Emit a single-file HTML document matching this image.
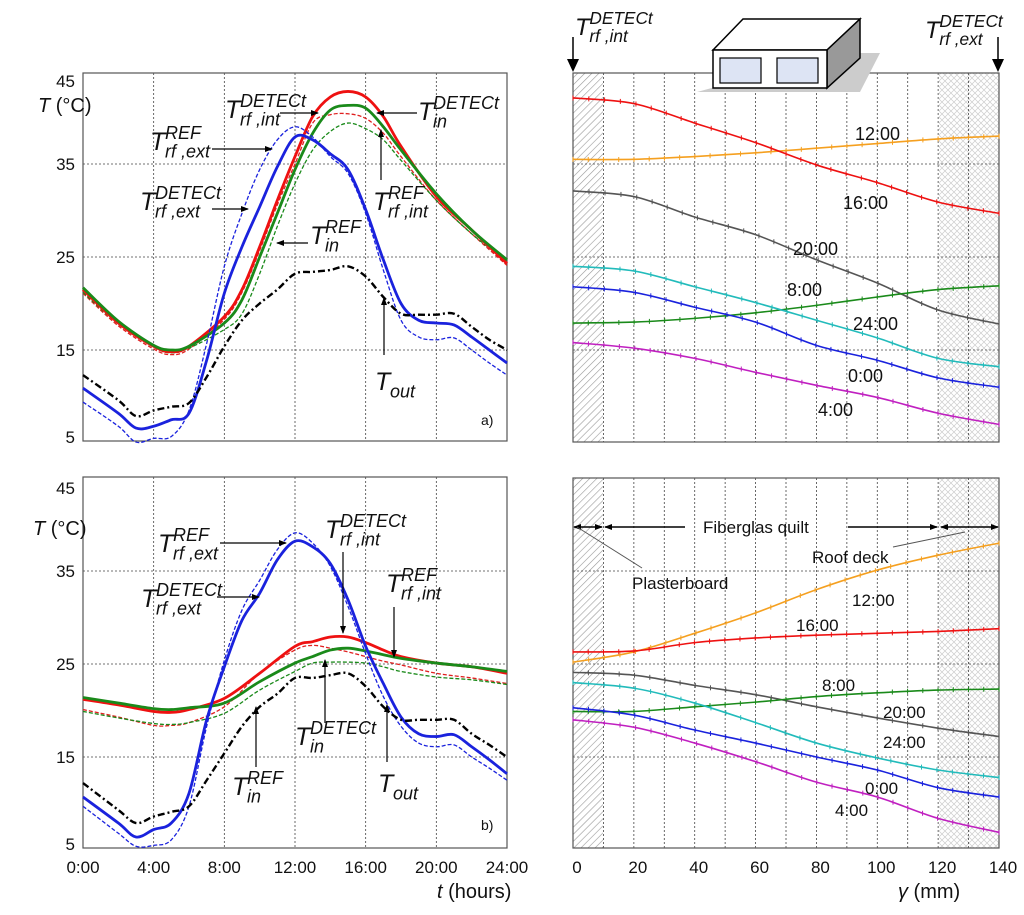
<!DOCTYPE html>
<html><head><meta charset="utf-8"><style>
body{margin:0;background:#fff}
svg{display:block;font-family:"Liberation Sans",sans-serif}
.tk{font-size:17px;fill:#111}
.it{font-style:italic}
</style></head><body>
<svg id="fig" width="1024" height="915" viewBox="0 0 1024 915" xmlns="http://www.w3.org/2000/svg">
<defs>
<pattern id="diag" width="5" height="5" patternUnits="userSpaceOnUse" patternTransform="rotate(45)"><line x1="0" y1="0" x2="0" y2="5" stroke="#999" stroke-width="1.2"/></pattern>
<pattern id="cross" width="6" height="6" patternUnits="userSpaceOnUse"><path d="M0 0L6 6M6 0L0 6" stroke="#ccc" stroke-width="0.7"/></pattern>
<marker id="ah" markerWidth="8" markerHeight="8" refX="7" refY="4" orient="auto" markerUnits="userSpaceOnUse"><path d="M0 1L8 4L0 7z" fill="#000"/></marker>
<marker id="ahs" markerWidth="8" markerHeight="8" refX="1" refY="4" orient="auto" markerUnits="userSpaceOnUse"><path d="M8 1L0 4L8 7z" fill="#000"/></marker>
</defs>
<g id="root"></g>
</svg>
<script>
// ---- Left panels: hours
const hoursA=[0,2,3,4,5,6,7,8,9,10,11,12,13,14,15,16,17,18,19,20,21,22,23,24];
const hrs=[0,2,4,5,6,8,9,10,11,12,13,14,15,16,17,18,20,22,24];
// panel a
const aRedSolid=[21.5,17.9,15.4,14.8,15.4,18.6,21.5,26.1,31.1,35.8,40.1,42.2,42.8,42.2,40.1,36.9,31.5,27.9,24.3];
const aRedDash=[21.1,17.6,15.1,14.5,15.1,18.3,21.2,25.7,30.6,35.0,39.4,40.3,40.4,39.9,38.3,35.8,31.1,27.5,24.1];
const aGreenSolid=[21.7,18.1,15.5,15.0,15.4,17.9,20.4,25.0,29.7,34.4,38.3,40.8,41.3,41.0,39.0,36.5,31.8,27.9,24.7];
const aGreenDash=[21.2,17.8,15.3,14.7,15.2,17.2,18.9,23.2,28.3,32.9,36.5,38.5,39.4,38.8,37.6,35.4,31.1,27.5,24.5];
const aBlueSolid=[10.9,8.2,6.6,6.8,7.5,8.2,13.9,21.1,26.1,30.4,34.7,37.9,37.6,36.1,34.4,30.1,24.7,20.0,18.2,17.9,17.7,16.4,15.0,13.6];
const aBlueDash=[9.4,6.8,5.1,5.5,5.7,8.5,15.7,24.0,29.7,34.4,37.6,39.0,37.9,35.8,34.0,29.7,23.6,18.2,16.4,16.1,16.3,15.0,13.6,12.3];
const aTout=[12.3,9.6,7.9,8.5,8.9,9.3,12.1,15.4,18.2,20.0,21.5,23.2,23.4,23.6,24.0,22.9,20.7,18.9,18.8,18.8,18.9,17.5,16.1,15.0];
// panel b
const hrsB=[0,2,4,5,6,8,10,12,13,14,15,16,17,18,20,22,24];
const bRedSolid=[21.2,20.6,19.9,19.8,20.1,21.3,24.0,26.9,27.4,27.9,27.9,27.3,26.5,25.8,25.1,24.7,24.0];
const bRedDash=[20.1,19.3,18.4,18.4,18.7,20.4,24.0,26.5,27.0,26.7,26.3,25.8,25.3,24.9,24.0,23.5,22.9];
const bGreenSolid=[21.4,20.8,20.2,20.1,20.3,20.8,23.1,25.1,25.8,26.5,26.7,26.4,26.0,25.6,25.1,24.7,24.2];
const bGreenDash=[19.9,19.2,18.6,18.5,18.7,19.7,22.2,24.2,25.1,25.2,25.2,25.1,24.7,24.2,23.6,23.3,22.8];
const bBlueSolid=[10.7,7.9,6.4,7.2,7.9,11.1,19.0,24.7,29.7,32.6,36.2,38.2,37.6,35.8,31.9,26.9,22.9,19.3,17.5,17.2,17.4,16.1,14.7,13.2];
const bBlueDash=[9.7,6.8,5.4,5.5,6.1,9.7,18.3,25.4,30.8,34.0,37.3,39.1,38.0,35.5,31.2,26.1,21.5,18.3,16.5,16.1,16.3,15.0,13.8,12.5];
const bTout=[12.2,9.3,7.9,8.6,9.1,9.7,12.5,15.4,18.3,20.4,21.8,23.5,23.5,23.8,24.0,22.6,20.4,19.0,19.0,19.0,19.0,17.5,16.3,15.0];
// ---- Right panels: depth (mm)
const depth=[0,20,40,60,80,100,120,140];
const c12=[35.5,35.5,35.8,36.2,36.7,37.2,37.7,38.0];
const c16=[42.1,41.5,39.4,37.3,34.9,33.0,30.9,29.7];
const c20=[32.1,31.5,29.3,27.4,24.7,22.2,19.3,17.8];
const c8=[17.9,18.0,18.4,19.0,19.8,20.7,21.5,21.9];
const c24=[24.0,23.5,21.8,20.1,18.2,16.3,14.1,13.2];
const c0=[21.8,21.2,19.6,18.0,15.5,13.9,12.0,11.0];
const c4=[15.8,15.2,14.1,12.6,11.2,9.9,8.2,7.0];
const d12=[25.2,26.3,28.3,30.5,33.0,35.1,36.7,38.0];
const d16=[26.3,26.4,27.3,27.8,28.1,28.3,28.5,28.8];
const d20=[24.1,23.8,22.7,21.7,20.4,19.2,18.1,17.2];
const d8=[19.9,19.9,20.4,20.9,21.5,21.9,22.2,22.3];
const d24=[23.0,22.4,20.8,18.7,16.5,14.9,13.6,12.8];
const d0=[20.3,19.5,17.9,16.5,15.0,13.6,11.7,10.7];
const d4=[19.0,18.2,16.5,14.5,12.3,10.7,8.4,6.9];
const yTicks=[5,15,25,35,45];
const hourLabels=["0:00","4:00","8:00","12:00","16:00","20:00","24:00"];
const mmLabels=[0,20,40,60,80,100,120,140];

const NS="http://www.w3.org/2000/svg";
const root=document.getElementById('root');
function el(tag,attrs,parent){const e=document.createElementNS(NS,tag);for(const k in attrs)e.setAttribute(k,attrs[k]);(parent||root).appendChild(e);return e;}
const xH=h=>83+h*424/24;
const xM=m=>573+m*426/140;
const yA=v=>443-9.3*(v-5);
const yB=v=>850-9.3*(v-5);
function smooth(xs,ys){let d=`M${xs[0]},${ys[0]}`;for(let i=0;i<xs.length-1;i++){const x0=xs[Math.max(i-1,0)],y0=ys[Math.max(i-1,0)],x1=xs[i],y1=ys[i],x2=xs[i+1],y2=ys[i+1],x3=xs[Math.min(i+2,xs.length-1)],y3=ys[Math.min(i+2,xs.length-1)];d+=` C${x1+(x2-x0)/6},${y1+(y2-y0)/6} ${x2-(x3-x1)/6},${y2-(y3-y1)/6} ${x2},${y2}`;}return d;}
function curve(xArr,vals,xf,yf,color,w,dash,name){const p=el('path',{d:smooth(xArr.map(xf),vals.map(yf)),fill:'none',stroke:color,'stroke-width':w});if(dash)p.setAttribute('stroke-dasharray',dash);


return p;}
function markers(p,color){const L=p.getTotalLength();const n=28;for(let i=0;i<=n;i++){const pt=p.getPointAtLength(L*i/n);const m=el('line',{x1:pt.x,x2:pt.x,y1:pt.y-2.5,y2:pt.y+2.5,stroke:color,'stroke-width':1});

}}

function frame(x0,x1,yf,top,bot,vgrid,name){
  const g=el('g',{});
  
  
  vgrid.forEach(x=>el('line',{x1:x,x2:x,y1:top,y2:bot,stroke:'#444','stroke-width':0.8,'stroke-dasharray':'2,2'},g));
  [15,25,35].forEach(v=>el('line',{x1:x0,x2:x1,y1:yf(v),y2:yf(v),stroke:'#444','stroke-width':0.8,'stroke-dasharray':'2,2'},g));
  el('rect',{x:x0,y:top,width:x1-x0,height:bot-top,fill:'none',stroke:'#555','stroke-width':1.2},g);
  return g;
}
[[73,442],[478,848]].forEach(([t,b])=>{
  const h1=el('rect',{x:573,y:t,width:30,height:b-t,fill:'url(#diag)'});
  
  
  const h2=el('rect',{x:939,y:t,width:60,height:b-t,fill:'url(#cross)'});
  
  
});
const hg=[4,8,12,16,20].map(xH);
const mg=[10,20,30,40,50,60,70,80,90,100,110,120,130].map(xM);
frame(83,507,yA,73,441,hg,'panel-a-frame');
frame(83,507,yB,477,848,hg,'panel-b-frame');
frame(573,999,yA,73,442,mg,'panel-c-frame');
frame(573,999,yB,478,848,mg,'panel-d-frame');

[[yA,'a'],[yB,'b']].forEach(([yf,p])=>{yTicks.forEach(v=>{let yy=yf(v);if(v===45)yy+=10;if(v===5)yy-=6;const t=el('text',{x:75,y:yy+6,'text-anchor':'end',class:'tk'});t.textContent=v;

});});
hourLabels.forEach((s,i)=>{const t=el('text',{x:xH(i*4),y:873,'text-anchor':'middle',class:'tk'});t.textContent=s;

});
mmLabels.forEach(m=>{const t=el('text',{x:xM(m)+4,y:873,'text-anchor':'middle',class:'tk'});t.textContent=m;

});

function leftSet(yf,rs,rd,gs,gd,bs,bd,to,hx,p){
  curve(hx,rd,xH,yf,'#e02020',1.3,'4,2',p+'-red-dash');
  curve(hx,gd,xH,yf,'#1a8a1a',1.3,'4,2',p+'-green-dash');
  curve(hx,rs,xH,yf,'#ee1111',2.8,null,p+'-red-solid');
  curve(hx,gs,xH,yf,'#1a8a1a',2.8,null,p+'-green-solid');
  curve(hoursA,bd,xH,yf,'#1a22dd',1.3,'4,2',p+'-blue-dash');
  curve(hoursA,bs,xH,yf,'#1a22dd',2.8,null,p+'-blue-solid');
  curve(hoursA,to,xH,yf,'#000',2.4,'7,3,2,3',p+'-tout');
}
leftSet(yA,aRedSolid,aRedDash,aGreenSolid,aGreenDash,aBlueSolid,aBlueDash,aTout,hrs,'a');
leftSet(yB,bRedSolid,bRedDash,bGreenSolid,bGreenDash,bBlueSolid,bBlueDash,bTout,hrsB,'b');

const cols={c12:'#f5a020',c16:'#ee1111',c20:'#555',c8:'#1a8a1a',c24:'#22bbbb',c0:'#1a22dd',c4:'#c020c0'};
[['c12',c12],['c16',c16],['c20',c20],['c8',c8],['c24',c24],['c0',c0],['c4',c4]].forEach(([k,v])=>markers(curve(depth,v,xM,yA,cols[k],1.6,null,'top-profile-'+k),cols[k]));
[['c12',d12],['c16',d16],['c20',d20],['c8',d8],['c24',d24],['c0',d0],['c4',d4]].forEach(([k,v])=>markers(curve(depth,v,xM,yB,cols[k],1.6,null,'bottom-profile-'+k),cols[k]));

function txt(x,y,s,size,name,extra){const t=el('text',Object.assign({x:x,y:y,'font-size':size,fill:'#111'},extra||{}));t.textContent=s;

return t;}
[['12:00',855,140],['16:00',843,209],['20:00',793,255],['8:00',787,296],['24:00',853,330],['0:00',848,382],['4:00',818,416]].forEach(a=>txt(a[1],a[2],a[0],18,'label-'+a[0]));
[['12:00',852,606],['16:00',796,631],['8:00',822,691],['20:00',883,718],['24:00',883,748],['0:00',865,794],['4:00',835,816]].forEach(a=>txt(a[1],a[2],a[0],17,'label-b-'+a[0]));

function tlab(x,y,sup,sub,name,big){const g=el('g',{});


const s=big||25;const t=el('text',{x:x,y:y,'font-size':s,'font-style':'italic',fill:'#111'},g);t.textContent='T';
if(sup){const a=el('text',{x:x+s*0.6,y:y-s*0.45,'font-size':s*0.72,'font-style':'italic',fill:'#111'},g);a.textContent=sup;}
if(sub){const b=el('text',{x:x+s*0.6,y:y+s*0.3,'font-size':s*0.72,'font-style':'italic',fill:'#111'},g);b.textContent=sub;}}
function arr(x1,y1,x2,y2,name){const l=el('line',{x1:x1,y1:y1,x2:x2,y2:y2,stroke:'#000','stroke-width':1.2,'marker-end':'url(#ah)'});

}
tlab(225,118,'DETECt','rf ,int','label-trf-int-detect-a');arr(280,113,318,113,'arrow-a1');
tlab(418,120,'DETECt','in','label-tin-detect-a');arr(417,113,377,113,'arrow-a2');
tlab(150,150,'REF','rf ,ext','label-trf-ext-ref-a');arr(212,149,272,149,'arrow-a3');
tlab(140,210,'DETECt','rf ,ext','label-trf-ext-detect-a');arr(212,209,248,209,'arrow-a4');
tlab(310,244,'REF','in','label-tin-ref-a');arr(308,243,277,243,'arrow-a5');
tlab(373,210,'REF','rf ,int','label-trf-int-ref-a');arr(381,180,381,130,'arrow-a6');
tlab(375,390,null,'out','label-tout-a');arr(384,355,384,298,'arrow-a7');
txt(481,425,'a)',14,'panel-a-tag');
tlab(158,552,'REF','rf ,ext','label-trf-ext-ref-b');arr(220,543,286,543,'arrow-b1');
tlab(325,538,'DETECt','rf ,int','label-trf-int-detect-b');arr(343,552,343,633,'arrow-b2');
tlab(141,607,'DETECt','rf ,ext','label-trf-ext-detect-b');arr(217,597,259,597,'arrow-b3');
tlab(386,592,'REF','rf ,int','label-trf-int-ref-b');arr(394,607,394,657,'arrow-b4');
tlab(295,745,'DETECt','in','label-tin-detect-b');arr(325,723,325,660,'arrow-b5');
tlab(232,795,'REF','in','label-tin-ref-b');arr(256,767,256,707,'arrow-b6');
tlab(378,792,null,'out','label-tout-b');arr(387,762,387,705,'arrow-b7');
txt(481,830,'b)',14,'panel-b-tag');
[[38,112],[33,535]].forEach((p,i)=>{const t=el('text',{x:p[0],y:p[1],'font-size':20,fill:'#111'});t.innerHTML='<tspan font-style="italic">T</tspan> (°C)';

});
{const t=el('text',{x:437,y:898,'font-size':20,fill:'#111'});t.innerHTML='<tspan font-style="italic">t</tspan> (hours)';

}
{const t=el('text',{x:898,y:898,'font-size':20,fill:'#111'});t.innerHTML='<tspan font-style="italic">γ</tspan> (mm)';

}
tlab(575,35,'DETECt','rf ,int','label-top-int',24);
tlab(925,38,'DETECt','rf ,ext','label-top-ext',24);
function bigArrow(x,y1,y2,name){const g=el('g',{});


el('line',{x1:x,x2:x,y1:y1,y2:y2-12,stroke:'#000','stroke-width':1.5},g);
el('polygon',{points:`${x-6},${y2-13} ${x+6},${y2-13} ${x},${y2}`,fill:'#000'},g);}
bigArrow(573,37,72,'arrow-int-surface');bigArrow(998,37,72,'arrow-ext-surface');
{const g=el('g',{});


el('polygon',{points:'697,92 860,92 880,53 840,53',fill:'#ccc'},g);
el('polygon',{points:'713,50 743,19 860,19 827,50',fill:'#fff',stroke:'#000','stroke-width':1.5},g);
el('polygon',{points:'827,50 860,19 860,58 827,88',fill:'#999',stroke:'#000','stroke-width':1.5},g);
el('rect',{x:713,y:50,width:114,height:38,fill:'#fff',stroke:'#000','stroke-width':1.5},g);
el('rect',{x:720,y:58,width:41,height:25,fill:'#dde4f4',stroke:'#000','stroke-width':1.2},g);
el('rect',{x:777,y:58,width:41,height:25,fill:'#dde4f4',stroke:'#000','stroke-width':1.2},g);}
{const g=el('g',{});


const L=(a,b,c,d,ms,me)=>{const l=el('line',{x1:a,y1:b,x2:c,y2:d,stroke:'#000','stroke-width':1.5},g);if(ms)l.setAttribute('marker-start','url(#ahs)');if(me)l.setAttribute('marker-end','url(#ah)');};
L(574,527,602,527,1,1);L(605,527,685,527,1,0);L(848,527,937,527,0,1);L(941,527,998,527,1,1);
el('line',{x1:577,y1:527,x2:642,y2:568,stroke:'#555','stroke-width':0.9},g);
el('line',{x1:965,y1:532,x2:893,y2:547,stroke:'#555','stroke-width':0.9},g);}
txt(703,533,'Fiberglas quilt',17,'label-fiberglas');
txt(632,589,'Plasterboard',17,'label-plasterboard');
txt(812,563,'Roof deck',17,'label-roof-deck');
</script>
</body></html>
